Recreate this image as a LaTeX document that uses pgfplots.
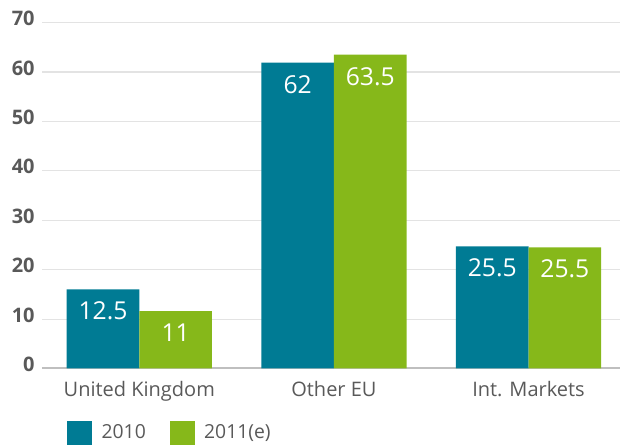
\documentclass[border=0pt]{standalone}
\usepackage{pgfplots}
\pgfplotsset{compat=1.18}
\usepackage{pgfplotstable}
\usepackage{fontspec}
\setmainfont{Open Sans}

\definecolor{teal2010}{RGB}{0,123,148}
\definecolor{green2011}{RGB}{134,184,26}
\definecolor{txtgray}{RGB}{89,89,89}

% bar heights as drawn, labels as printed
\pgfplotstableread{
x h10 l10 h11 l11
0 16.0 12.5 11.6 11
1 61.9 62 63.5 63.5
2 24.7 25.5 24.5 25.5
}\shares

\begin{document}
\begin{tikzpicture}
\useasboundingbox (0,0) rectangle (465pt,333.75pt);
\begin{axis}[
  at={(31.5pt,57.4pt)}, anchor=south west,
  scale only axis, width=433.5pt, height=259.4pt,
  xmin=-0.5, xmax=2.47, ymin=0, ymax=70,
  ybar=0pt, bar width=0.373,
  legend image code/.code={\fill[#1] (0pt,-9pt) rectangle (18.75pt,9pt);},
  axis x line*=bottom, axis y line*=left,
  x axis line style={draw=gray!50, line width=1.5pt},
  y axis line style={draw=none},
  major tick length=0pt,
  ymajorgrids, grid style={draw=gray!22, line width=0.8pt},
  ytick={0,10,...,70},
  xtick={0,1,2},
  xticklabels={United Kingdom, Other EU, Int. Markets},
  /pgf/number format/assume math mode=true,
  yticklabel style={font=\bfseries\fontsize{15}{18}\selectfont, text=txtgray, yshift=3pt, xshift=-2pt},
  xticklabel style={font=\fontsize{15}{18}\selectfont, text=txtgray, yshift=-6pt},
  nodes near coords={\pgfplotspointmeta},
  nodes near coords align={below},
  every node near coord/.append style={text=white, yshift=-6pt, font=\fontsize{18.5}{22}\selectfont},
  legend columns=2,
  legend style={draw=none, fill=none, at={(0.0433,-0.1865)}, anchor=west, inner sep=0pt,
    font=\fontsize{14.5}{17}\selectfont, text=txtgray,
    column sep=5pt,
    /tikz/column 2/.style={column sep=16pt}},
]
\addplot[fill=teal2010, draw=none, bar shift=-0.1865, point meta=explicit symbolic]
  table[x=x, y=h10, meta=l10] {\shares};
\addplot[fill=green2011, draw=none, bar shift=0.1865, point meta=explicit symbolic]
  table[x=x, y=h11, meta=l11] {\shares};
\legend{2010, 2011(e)}
\end{axis}
\end{tikzpicture}
\end{document}
